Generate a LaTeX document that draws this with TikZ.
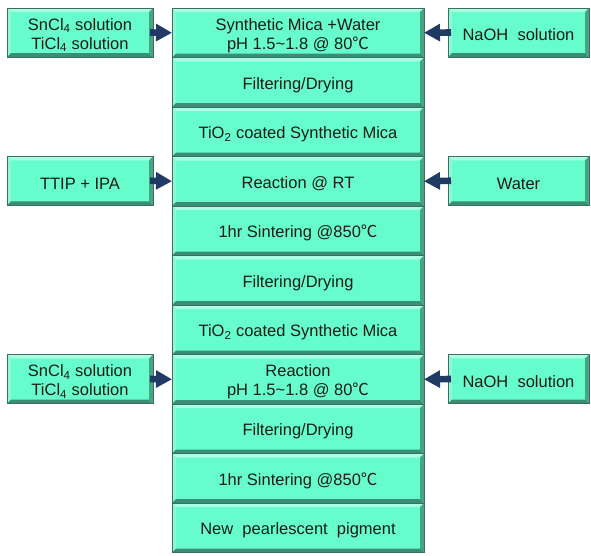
\documentclass[tikz,border=0pt]{standalone}
\usepackage{fontspec}
\setmainfont{Liberation Sans}
\newfontfamily\cjkfont{Noto Sans CJK KR}
\usetikzlibrary{arrows.meta}
\definecolor{boxfill}{HTML}{66FCCB}
\definecolor{bevlight}{HTML}{A8FFE3}
\definecolor{bevleft}{HTML}{8AFAD6}
\definecolor{bevdark}{HTML}{388F73}
\definecolor{bevright}{HTML}{46A585}
\definecolor{boxline}{HTML}{3F6E5E}
\definecolor{arrowcol}{HTML}{1F3A64}
\definecolor{textcol}{HTML}{1C1C1C}
\newcommand{\degC}{{\cjkfont ℃}}
\newcommand{\tstrut}{\rule{0pt}{17pt}}
\tikzset{
  bev/.style={draw=boxline, line width=0.8pt, fill=boxfill, inner sep=0pt, outer sep=0pt,
    align=center, text=textcol, font=\fontsize{16.5}{19}\selectfont,
    path picture={
      \fill[bevlight] (path picture bounding box.north west) -- (path picture bounding box.north east)
        -- ([shift={(-4pt,-4pt)}]path picture bounding box.north east) -- ([shift={(4pt,-4pt)}]path picture bounding box.north west) -- cycle;
      \fill[bevleft] (path picture bounding box.north west) -- ([shift={(4pt,-4pt)}]path picture bounding box.north west)
        -- ([shift={(4pt,4pt)}]path picture bounding box.south west) -- (path picture bounding box.south west) -- cycle;
      \fill[bevdark] (path picture bounding box.south west) -- (path picture bounding box.south east)
        -- ([shift={(-4pt,4pt)}]path picture bounding box.south east) -- ([shift={(4pt,4pt)}]path picture bounding box.south west) -- cycle;
      \fill[bevright] (path picture bounding box.north east) -- ([shift={(-4pt,-4pt)}]path picture bounding box.north east)
        -- ([shift={(-4pt,4pt)}]path picture bounding box.south east) -- (path picture bounding box.south east) -- cycle;
    }},
  mainbox/.style={bev, minimum width=252pt, minimum height=49.5pt},
  leftbox/.style={bev, minimum width=146pt, minimum height=49pt},
  rightbox/.style={bev, minimum width=141pt, minimum height=49pt},
  arr/.style={draw=arrowcol, line width=6.6pt, -{Triangle[width=16.6pt,length=16pt]}}
}
\begin{document}
\begin{tikzpicture}[x=1pt,y=-1pt]
\useasboundingbox (0,0) rectangle (591,555);
\node[mainbox] (m1) at (298,32.75) {\tstrut Synthetic Mica  +Water\\pH 1.5\textasciitilde 1.8 @ 80\degC};
\node[mainbox] (m2) at (298,82.25) {\tstrut Filtering/Drying};
\node[mainbox] (m3) at (298,131.75) {\tstrut TiO\textsubscript{2} coated Synthetic Mica};
\node[mainbox] (m4) at (298,181.25) {\tstrut Reaction @ RT};
\node[mainbox] (m5) at (298,230.75) {\tstrut 1hr Sintering @850\degC};
\node[mainbox] (m6) at (298,280.25) {\tstrut Filtering/Drying};
\node[mainbox] (m7) at (298,329.75) {\tstrut TiO\textsubscript{2} coated Synthetic Mica};
\node[mainbox] (m8) at (298,379.25) {\tstrut Reaction\\pH 1.5\textasciitilde 1.8 @ 80\degC};
\node[mainbox] (m9) at (298,428.75) {\tstrut Filtering/Drying};
\node[mainbox] (m10) at (298,478.25) {\tstrut 1hr Sintering @850\degC};
\node[mainbox] (m11) at (298,527.75) {\tstrut New\ \ pearlescent\ \ pigment};

\node[leftbox] (l1) at (80,32.5) {\tstrut SnCl\textsubscript{4} solution\\TiCl\textsubscript{4} solution};
\node[leftbox] (l4) at (80,180.75) {\tstrut TTIP + IPA};
\node[leftbox] (l8) at (80,379) {\tstrut SnCl\textsubscript{4} solution\\TiCl\textsubscript{4} solution};

\node[rightbox] (r1) at (518.5,32.5) {\tstrut NaOH\ \ solution};
\node[rightbox] (r4) at (518.5,180.75) {\tstrut Water};
\node[rightbox] (r8) at (518.5,379) {\tstrut NaOH\ \ solution};

\draw[arr] ([xshift=-3pt]l1.east) -- (m1.west);
\draw[arr] ([xshift=-3pt]l4.east) -- (m4.west);
\draw[arr] ([xshift=-3pt]l8.east) -- (m8.west);
\draw[arr] ([xshift=3pt]r1.west) -- (m1.east);
\draw[arr] ([xshift=3pt]r4.west) -- (m4.east);
\draw[arr] ([xshift=3pt]r8.west) -- (m8.east);
\end{tikzpicture}
\end{document}
